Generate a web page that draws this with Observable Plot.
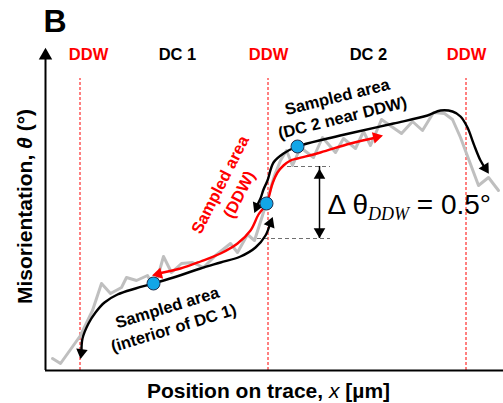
<!DOCTYPE html>
<html>
<head>
<meta charset="utf-8">
<script src="https://cdn.jsdelivr.net/npm/d3@7"></script>
<script src="https://cdn.jsdelivr.net/npm/@observablehq/plot@0.6"></script>
<style>
  html, body { margin: 0; padding: 0; background: #fff; }
  svg { display: block; }
</style>
</head>
<body>
<div id="chart"></div>
<script>
// Schematic units: x = position on trace (arbitrary), y = misorientation (arbitrary)
const regionLabels = ["DDW", "DC 1", "DDW", "DC 2", "DDW"];
const regionX = [43, 132, 223, 323, 421];
const regionColors = ["red", "black", "red", "black", "red"];
const ddwX = [34, 222, 420];

// measured (noisy) misorientation profile
const profile = [[7,12],[15,7],[35,35],[47,60],[56,87],[65,77],[76,83],[81,93],[91,90],[102,95],[109,82],[118,114],[126,98],[136,107],[147,108],[158,103],[170,115],[185,127],[192,118],[202,136],[209,130],[217,155],[223,175],[229,195],[235,210],[241,220],[247,205],[255,223],[268,213],[277,233],[290,218],[298,232],[310,222],[318,239],[325,225],[336,251],[356,237],[367,249],[377,240],[388,258],[399,257],[407,251],[415,233],[433,185],[443,193],[453,180]];

// sampled-area guide curves
const sampleDC1 = [[36,20],[37,32],[43,47],[50,58],[59,68],[72,76],[90,82],[108,87],[128,93],[155,102],[175,108],[195,114],[210,123],[220,135],[225,148]];
const sampleDC2 = [[211,164],[215,172],[218,181],[222,190],[228,208],[238,217],[252,224],[282,232],[308,238],[348,247],[382,255],[395,260],[407,259],[415,254],[422,243],[428,227],[435,210],[440,202]];
const sampleDDW = [[113,97],[135,102],[155,109],[175,117],[192,127],[205,140],[213,156],[221,167],[227,187],[232,198],[238,205],[245,210],[252,212],[275,218],[305,227],[331,233]];

// sampling points
const samplePoints = [[108,87],[221,167],[252,224]];

// axis arrow head: [x, y, angle]
const axisHead = [[0, 315, 0]];
// guide arrow heads: [x, y, angle, color]
const heads = [
  [36, 18, 188, "black"],
  [224.8, 147.2, 21, "black"],
  [211.4, 163.7, 203, "black"],
  [439.8, 202.3, 148, "black"],
  [113, 96.5, 256, "red"],
  [331, 233.5, 76, "red"],
  [274, 195, 0, "black"],
  [274, 139, 180, "black"]
];

// Δθ reference levels
const levels = [[242, 285, 204], [205, 285, 132]];
const deltaX = 274;

const annotations = [
  ["Sampled area\n(DC 2 near DDW)", 294, 264.5, -14, "black"],
  ["Sampled area\n(interior of DC 1)", 124.5, 54, -17, "black"],
  ["Sampled area\n(DDW)", 183, 181.5, -63, "red"]
];

const FONT = "Liberation Sans, Arial, sans-serif";

const svg = Plot.plot({
  width: 503,
  height: 403,
  marginLeft: 45,
  marginRight: 0,
  marginTop: 45,
  marginBottom: 33,
  x: {domain: [0, 458], axis: null},
  y: {domain: [0, 325], axis: null},
  style: {fontFamily: FONT, background: "white", overflow: "visible"},
  marks: [
    // DDW boundaries
    Plot.ruleX(ddwX, {y1: 0, y2: 292, stroke: "#ff0000", strokeWidth: 1, strokeDasharray: "3,2", dx: 0.5}),
    // Δθ levels
    Plot.ruleY(levels, {x1: d => d[0], x2: d => d[1], y: d => d[2], stroke: "#6f6f6f", strokeWidth: 1.2, strokeDasharray: "4,3"}),
    // profile
    Plot.line(profile, {x: d => d[0], y: d => d[1], stroke: "#bfbfbf", strokeWidth: 3}),
    // guides
    Plot.line(sampleDC1, {x: d => d[0], y: d => d[1], stroke: "black", strokeWidth: 2.4, curve: "catmull-rom"}),
    Plot.line(sampleDC2, {x: d => d[0], y: d => d[1], stroke: "black", strokeWidth: 2.4, curve: "catmull-rom"}),
    Plot.line(sampleDDW, {x: d => d[0], y: d => d[1], stroke: "#ff0000", strokeWidth: 2.4, curve: "catmull-rom"}),
    // Δθ double arrow
    Plot.ruleX([deltaX], {y1: levels[1][2], y2: levels[0][2], stroke: "black", strokeWidth: 1.5}),
    // axes
    Plot.ruleX([0], {y1: 0, y2: 312, stroke: "black", strokeWidth: 2}),
    Plot.ruleY([0], {x1: 0, x2: 458, stroke: "black", strokeWidth: 2}),
    // arrow heads
    Plot.dot(axisHead, {x: d => d[0], y: d => d[1], rotate: d => d[2], fill: "black", r: 5, symbol: "triangle", stroke: "none"}),
    Plot.dot(heads, {x: d => d[0], y: d => d[1], rotate: d => d[2], fill: d => d[3], r: 4.3, symbol: "triangle", stroke: "none"}),
    // sampling points
    Plot.dot(samplePoints, {x: d => d[0], y: d => d[1], r: 6.5, fill: "#12a6e8", stroke: "#1f3050", strokeWidth: 1}),
    // region labels
    Plot.text(regionLabels, {x: (d, i) => regionX[i], y: 316, text: d => d, fill: (d, i) => regionColors[i], fontSize: 16.5, fontWeight: "bold"}),
    // annotations
    Plot.text(annotations, {x: d => d[1], y: d => d[2], text: d => d[0], rotate: d => d[3], fill: d => d[4], fontSize: 16.5, fontWeight: "bold", lineHeight: 1.3}),
    // Δθ label
    Plot.text(["Δ θDDW = 0.5°"], {x: 282, y: 165, textAnchor: "start", fontSize: 28, fontWeight: "normal"}),
    // panel letter
    Plot.text(["B"], {x: -2, y: 349, textAnchor: "start", fontSize: 32, fontWeight: "bold"}),
    // axis titles
    Plot.text(["Misorientation, θ (°)"], {x: -20, y: 164, rotate: -90, fontSize: 21, fontWeight: "bold"}),
    Plot.text(["Position on trace, x [µm]"], {x: 223, y: -21, fontSize: 21, fontWeight: "bold"})
  ]
});

// rich text (italic symbols, subscript)
const NS = "http://www.w3.org/2000/svg";
function richify(match, parts) {
  svg.querySelectorAll("text").forEach(el => {
    if (el.textContent !== match) return;
    el.textContent = "";
    parts.forEach(p => {
      const t = document.createElementNS(NS, "tspan");
      t.textContent = p.t;
      for (const k in (p.a || {})) t.setAttribute(k, p.a[k]);
      el.appendChild(t);
    });
  });
}
richify("Misorientation, θ (°)", [
  {t: "Misorientation, "},
  {t: "θ", a: {"font-style": "italic"}},
  {t: " (°)"}
]);
richify("Position on trace, x [µm]", [
  {t: "Position on trace, "},
  {t: "x", a: {"font-style": "italic", "font-weight": "normal"}},
  {t: " [µm]"}
]);
richify("Δ θDDW = 0.5°", [
  {t: "Δ θ"},
  {t: "DDW", a: {"font-style": "italic", "font-size": "18", "dy": "6", "font-family": "Liberation Serif, serif"}},
  {t: " = 0.5°", a: {"dy": "-6"}}
]);

document.getElementById("chart").appendChild(svg);
</script>
</body>
</html>
